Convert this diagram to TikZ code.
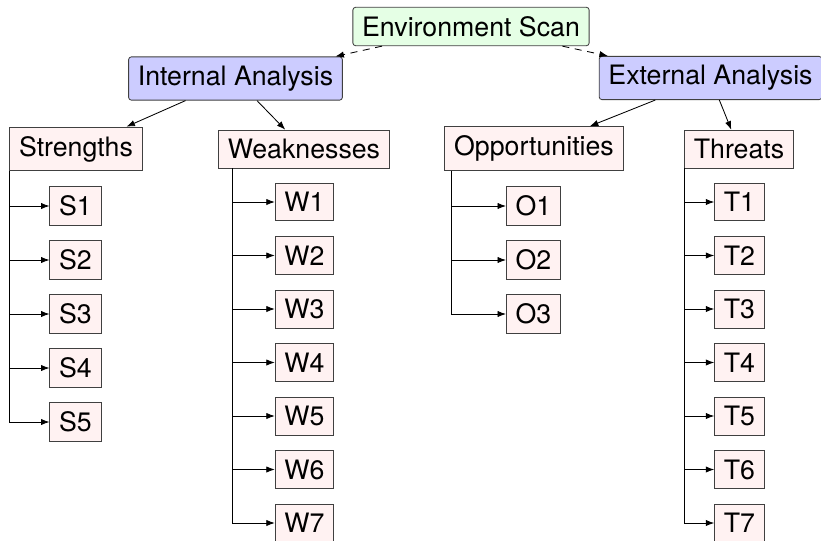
\documentclass[tikz,border=0pt]{standalone}
\usepackage{fontspec}
\setmainfont{TeX Gyre Heros}
\usepackage{tikz}
\usepackage{xcolor}
\usetikzlibrary{arrows.meta}

\begin{document}
\begin{tikzpicture}[x=0.025cm, y=-0.025cm,
                    every node/.style={draw=black!75, line width=0.6pt, inner xsep=6.6pt, inner ysep=6.4pt,
                                       font=\fontsize{19pt}{22pt}\selectfont},
                    scan/.style={fill=green!10, rounded corners=2pt},
                    analysis/.style={fill=blue!20, rounded corners=2pt},
                    item/.style={fill=red!5},
                    link/.style={-{Latex[length=6pt, width=4.5pt]}, line width=0.6pt}]
                    \useasboundingbox (0,0) rectangle (821,540);

                    \node[scan] (ES) at (471,26.5) {Environment Scan};
                    \node[analysis] (IA) at (235.5,78.5) {Internal Analysis};
                    \node[analysis] (EA) at (710.5,78) {External Analysis};

                    \node[item] (S) at (76,149) {Strengths};
                    \node[item] (W) at (304,149) {Weaknesses};
                    \node[item] (O) at (534,148.5) {Opportunities};
                    \node[item] (T) at (739,149) {Threats};

                    \node[item] (S1) at (75.5,206) {S1};
                    \node[item] (S2) at (75.5,260) {S2};
                    \node[item] (S3) at (75.5,314) {S3};
                    \node[item] (S4) at (75.5,368) {S4};
                    \node[item] (S5) at (75.5,422) {S5};

                    \node[item] (W1) at (304.5,202) {W1};
                    \node[item] (W2) at (304.5,255.5) {W2};
                    \node[item] (W3) at (304.5,309) {W3};
                    \node[item] (W4) at (304.5,362.5) {W4};
                    \node[item] (W5) at (304.5,416) {W5};
                    \node[item] (W6) at (304.5,469.5) {W6};
                    \node[item] (W7) at (304.5,523) {W7};

                    \node[item] (O1) at (533.5,206) {O1};
                    \node[item] (O2) at (533.5,260) {O2};
                    \node[item] (O3) at (533.5,314) {O3};

                    \node[item] (T1) at (739.5,202) {T1};
                    \node[item] (T2) at (739.5,255.5) {T2};
                    \node[item] (T3) at (739.5,309) {T3};
                    \node[item] (T4) at (739.5,362.5) {T4};
                    \node[item] (T5) at (739.5,416) {T5};
                    \node[item] (T6) at (739.5,469.5) {T6};
                    \node[item] (T7) at (739.5,523) {T7};

                    % scan to the two analyses
                    \draw[link, dash pattern=on 5pt off 4pt] (ES) -- (IA);
                    \draw[link, dash pattern=on 5pt off 4pt] (ES) -- (EA);

                    \draw[link] (IA) -- (S);
                    \draw[link] (IA) -- (W);
                    \draw[link] (EA) -- (O);
                    \draw[link] (EA) -- (T);

                    % lists
                    \draw[link] (S.south west) |- (S1.west);
                    \draw[link] (S.south west) |- (S2.west);
                    \draw[link] (S.south west) |- (S3.west);
                    \draw[link] (S.south west) |- (S4.west);
                    \draw[link] (S.south west) |- (S5.west);

                    \draw[link] ([xshift=0.35cm]W.south west) |- (W1.west);
                    \draw[link] ([xshift=0.35cm]W.south west) |- (W2.west);
                    \draw[link] ([xshift=0.35cm]W.south west) |- (W3.west);
                    \draw[link] ([xshift=0.35cm]W.south west) |- (W4.west);
                    \draw[link] ([xshift=0.35cm]W.south west) |- (W5.west);
                    \draw[link] ([xshift=0.35cm]W.south west) |- (W6.west);
                    \draw[link] ([xshift=0.35cm]W.south west) |- (W7.west);

                    \draw[link] ([xshift=0.175cm]O.south west) |- (O1.west);
                    \draw[link] ([xshift=0.175cm]O.south west) |- (O2.west);
                    \draw[link] ([xshift=0.175cm]O.south west) |- (O3.west);

                    \draw[link] (T.south west) |- (T1.west);
                    \draw[link] (T.south west) |- (T2.west);
                    \draw[link] (T.south west) |- (T3.west);
                    \draw[link] (T.south west) |- (T4.west);
                    \draw[link] (T.south west) |- (T5.west);
                    \draw[link] (T.south west) |- (T6.west);
                    \draw[link] (T.south west) |- (T7.west);
                \end{tikzpicture}
\end{document}
